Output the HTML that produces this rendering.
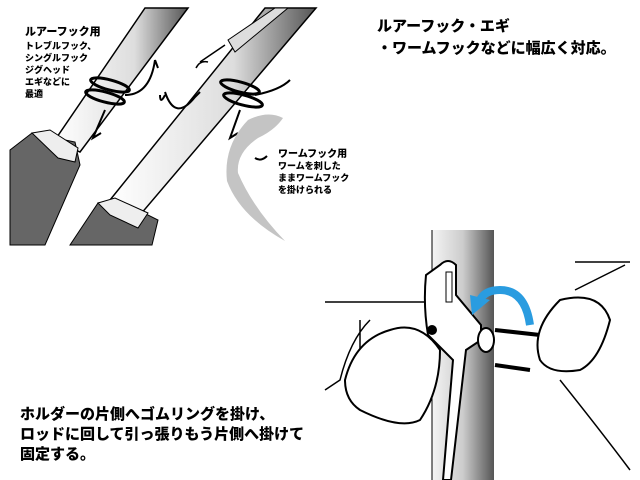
<!DOCTYPE html>
<html><head><meta charset="utf-8"><style>
body{margin:0;background:#fff;width:640px;height:480px;overflow:hidden;position:relative;font-family:"Liberation Sans","Noto Sans CJK JP",sans-serif}
.t{position:absolute;font-weight:900;color:#000;white-space:nowrap}
</style></head><body>
<svg width="640" height="480" style="position:absolute;left:0;top:0">
<defs>
<linearGradient id="g1" x1="0" y1="0" x2="1" y2="0"><stop offset="0" stop-color="#fff"/><stop offset="0.6" stop-color="#ddd"/><stop offset="1" stop-color="#555"/></linearGradient>
<linearGradient id="g2" x1="0" y1="0" x2="1" y2="0"><stop offset="0" stop-color="#f4f4f4"/><stop offset="0.5" stop-color="#ccc"/><stop offset="1" stop-color="#555"/></linearGradient>
</defs>
<!-- left rod -->
<polygon points="145,8 188,8 80,152 55,140" fill="url(#g1)" stroke="#000" stroke-width="1.5"/>
<polygon points="10,150 32,133 75,142 80,165 45,245 10,245" fill="#666" stroke="#000"/>
<polygon points="32,133 50,130 78,148 75,162 58,158" fill="#eee" stroke="#000"/>
<!-- right rod -->
<polygon points="265,8 316,8 140,215 110,200" fill="url(#g1)" stroke="#000" stroke-width="1.5"/>
<polygon points="70,245 98,203 118,200 158,220 152,245" fill="#666" stroke="#000"/>
<polygon points="98,203 115,198 148,213 138,228 110,215" fill="#eee" stroke="#000"/>
<!-- lure -->
<polygon points="228,40 275,8 288,8 235,52" fill="#ddd" stroke="#000"/>
<path d="M200,62 l25,-17 M196,68 q4,-8 12,-6" stroke="#000" fill="none" stroke-width="1.5"/>
<!-- rings -->
<ellipse cx="110" cy="85" rx="20" ry="5" fill="none" stroke="#000" stroke-width="3" transform="rotate(15 110 85)"/>
<ellipse cx="105" cy="97" rx="20" ry="5" fill="none" stroke="#000" stroke-width="3" transform="rotate(15 105 97)"/>
<ellipse cx="240" cy="87" rx="20" ry="5" fill="none" stroke="#000" stroke-width="3" transform="rotate(15 240 87)"/>
<ellipse cx="243" cy="100" rx="20" ry="5" fill="none" stroke="#000" stroke-width="3" transform="rotate(15 243 100)"/>
<!-- hooks -->
<path d="M125,95 q25,0 30,-35 M155,60 l3,8 M160,95 q0,10 5,0 M165,92 q10,30 30,5 l5,-5 M105,110 l-12,28 l8,-5" stroke="#000" stroke-width="2" fill="none"/>
<path d="M255,95 q25,-5 35,-15 M240,110 l-10,28 l8,-5" stroke="#000" stroke-width="2" fill="none"/>
<!-- worm -->
<path d="M248,120 q20,-10 35,-2 q-8,12 -25,20 q-22,15 -20,35 q15,35 47,68 q-45,-25 -58,-60 q-4,-35 21,-61z" fill="#c4c4c4"/>
<path d="M255,158 q6,4 12,-2" stroke="#000" stroke-width="2" fill="none"/>
<!-- bottom right rod -->
<rect x="432" y="230" width="62" height="250" fill="url(#g2)"/>
<path d="M432,230 V480" stroke="#000" stroke-width="1"/>
<!-- bands -->
<path d="M495,330 L540,335 M495,365 L530,370" stroke="#000" stroke-width="4"/>
<!-- hands -->
<path d="M325,302 h100 M360,320 v60 M370,320 q-20,20 -30,60 l-15,10" stroke="#000" stroke-width="1.5" fill="none"/>
<path d="M390,330 q30,-10 50,20 q0,40 -20,70 q-20,10 -60,-10 q-15,-10 -15,-30 q10,-40 45,-50z" fill="#fff" stroke="#000" stroke-width="2"/>
<path d="M560,300 q40,-10 50,20 q-10,40 -30,50 q-30,5 -40,-10 q-10,-30 20,-60z" fill="#fff" stroke="#000" stroke-width="2"/>
<path d="M575,262 L630,262 M575,290 L625,265 M560,380 q40,50 70,90" stroke="#000" stroke-width="1.5" fill="none"/>
<!-- holder -->
<path d="M440,265 q8,-8 16,0 v30 l25,30 v15 l-15,10 l-15,130 l-8,0 l10,-120 l-25,-25 q-5,-30 -2,-60z" fill="#fff" stroke="#000" stroke-width="2"/>
<path d="M446,272 h6 v30 h-6z" fill="#fff" stroke="#000"/>
<ellipse cx="486" cy="340" rx="8" ry="12" fill="#fff" stroke="#000" stroke-width="2"/>
<circle cx="432" cy="330" r="5" fill="#000"/>
<!-- blue arrow -->
<path d="M530,325 q-5,-35 -30,-35 q-15,0 -20,10" stroke="#2a9ce0" stroke-width="8" fill="none"/>
<polygon points="472,315 470,295 490,300" fill="#2a9ce0"/>
</svg>
<div class="t" style="left:25px;top:23px;font-size:11px">ルアーフック用</div>
<div class="t" style="left:25px;top:40px;font-size:9px;line-height:12px">トレブルフック、<br>シングルフック<br>ジグヘッド<br>エギなどに<br>最適</div>
<div class="t" style="left:278px;top:145px;font-size:10px">ワームフック用</div>
<div class="t" style="left:278px;top:160px;font-size:9px;line-height:12px">ワームを刺した<br>ままワームフック<br>を掛けられる</div>
<div class="t" style="left:377px;top:16px;font-size:15px;line-height:22px">ルアーフック・エギ<br>・ワームフックなどに幅広く対応。</div>
<div class="t" style="left:20px;top:405px;font-size:15px;line-height:20px">ホルダーの片側へゴムリングを掛け、<br>ロッドに回して引っ張りもう片側へ掛けて<br>固定する。</div>
</body></html>
